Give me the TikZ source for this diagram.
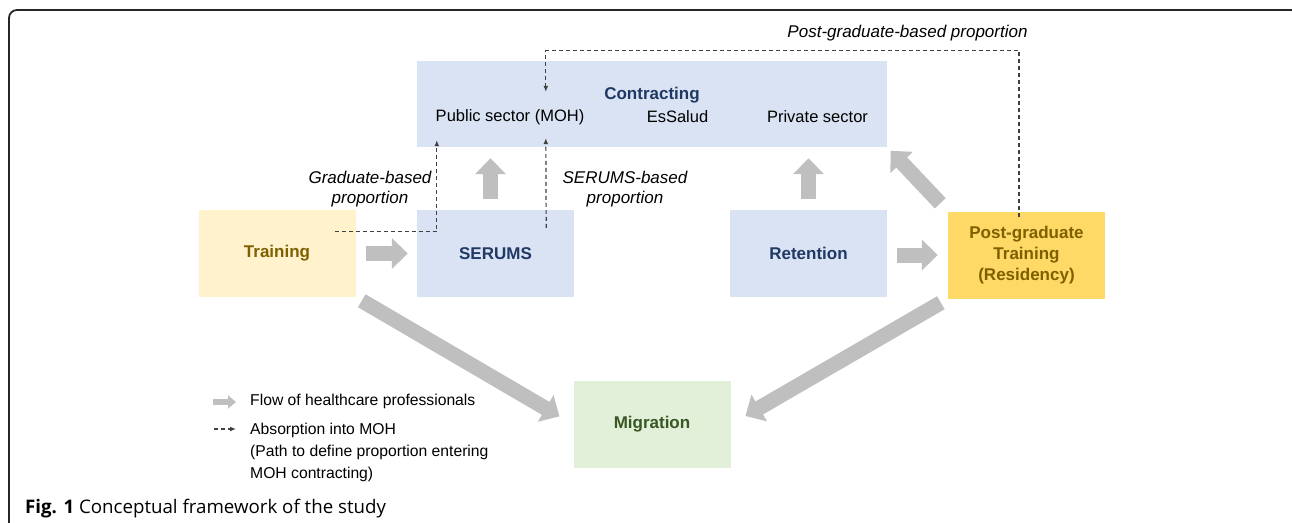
\documentclass[tikz,border=0pt]{standalone}
\usepackage{fontspec}
\setmainfont{Liberation Sans}
\newfontfamily\capfont{Open Sans}
\usepackage{tikz}
\usetikzlibrary{arrows.meta}

\definecolor{boxblue}{HTML}{DAE3F3}
\definecolor{boxcream}{HTML}{FFF2CC}
\definecolor{boxgold}{HTML}{FFD966}
\definecolor{boxgreen}{HTML}{E2EFD9}
\definecolor{txtblue}{HTML}{203864}
\definecolor{txtbrown}{HTML}{7F6000}
\definecolor{txtgreen}{HTML}{385723}
\definecolor{flowgray}{HTML}{BFBFBF}
\definecolor{dashgray}{HTML}{404040}

\begin{document}
\begin{tikzpicture}[x=1pt,y=-1pt,
  stage/.style={minimum width=157pt,minimum height=87pt,inner sep=0pt,align=center,
    font=\bfseries\fontsize{17}{21}\selectfont},
  sector/.style={font=\fontsize{16.5}{20}\selectfont,inner sep=0pt},
  share/.style={font=\itshape\fontsize{17}{20}\selectfont,align=center,inner sep=0pt},
  legtext/.style={font=\fontsize{15.7}{22}\selectfont,align=left,inner sep=0pt},
  flow/.style={draw=flowgray,line width=15pt,-{Triangle[length=16pt,width=30pt]}},
  absorb/.style={draw=dashgray,line width=1.2pt,dash pattern=on 4pt off 3pt,
    -{Latex[length=6pt,width=5pt]}}]
\useasboundingbox (0,0) rectangle (1292,522);
\clip (0,0) rectangle (1292,522);
\draw[line width=1.8pt,draw=black!85,rounded corners=8pt]
(9,540) -- (9,10) -- (1299,10) -- (1299,540);

% the boxes
\node[stage,fill=boxblue,minimum width=470pt,minimum height=86pt] (contr) at (652,104) {};
\node[font=\bfseries\fontsize{17}{20}\selectfont,text=txtblue,inner sep=0pt] (contrlab) at (652,95) {Contracting};
\node[sector] (moh) at (510,117) {Public sector (MOH)};
\node[sector] (essalud) at (677.5,117) {EsSalud};
\node[sector] (priv) at (817.5,117) {Private sector};
\node[stage,fill=boxcream,text=txtbrown] (train) at (277,253.5) {Training};
\node[stage,fill=boxblue,text=txtblue] (serums) at (495.5,253.5) {SERUMS};
\node[stage,fill=boxblue,text=txtblue] (retain) at (808.5,253.5) {Retention};
\node[stage,fill=boxgold,text=txtbrown] (pgt) at (1026.5,255) {Post-graduate\\Training\\(Residency)};
\node[stage,fill=boxgreen,text=txtgreen] (migr) at (652,424.5) {Migration};

\node[share] (gradlab) at (370,189) {Graduate-based\\proportion};
\node[share] (serlab) at (625,189) {SERUMS-based\\proportion};
\node[share] (pglab) at (907.5,33) {Post-graduate-based proportion};

% flow of professionals
\draw[flow,shorten <=10pt,shorten >=9pt] (train.east) -- (serums.west);
\draw[flow,shorten <=10pt,shorten >=10pt] (pgt.west -| retain.east) -- (pgt.west);
\draw[flow,shorten <=11pt,shorten >=11pt] ([xshift=-5pt]serums.north) -- ([xshift=-5pt]serums.north |- contr.south);
\draw[flow,shorten <=11pt,shorten >=11pt] (retain.north) -- (retain.north |- contr.south);
\draw[flow,shorten <=11pt,shorten >=5pt] (pgt.north west) -- (contr.south east);
\draw[flow,shorten <=7pt,shorten >=16pt] (train.south east) -- (migr.west);
\draw[flow,shorten <=8pt,shorten >=17pt] (pgt.south west) -- (migr.east);

% absorption into MOH
\draw[absorb] ([shift={(-21,-22)}]train.east) -| ([shift={(20,-7)}]contr.south west);
\draw[absorb] ([shift={(-28,18)}]serums.north east) -- ([shift={(129,-9)}]contr.south west);
\draw[absorb] ([shift={(-7.5,6)}]pgt.north) |- ([shift={(129,-10)}]contr.north west)
-- ([shift={(129,31)}]contr.north west);

% legend
\coordinate (legflowA) at (213,402);
\coordinate (legflowB) at (236,402);
\coordinate (legdashA) at (214,429);
\coordinate (legdashB) at (236,429);
\draw[draw=flowgray,line width=6pt,-{Triangle[length=8pt,width=13pt]}] (legflowA) -- (legflowB);
\draw[absorb] (legdashA) -- (legdashB);
\node[legtext,anchor=west] (legflow) at (250,401) {Flow of healthcare professionals};
\node[legtext,anchor=north west] (legabs) at (250,423) {Absorption into MOH\\(Path to define proportion entering\\MOH contracting)};

\node[font=\capfont\fontsize{18.7}{22}\selectfont,anchor=base west,inner sep=0pt] (caption) at (25,513)
{\textbf{Fig. 1} Conceptual framework of the study};
\end{tikzpicture}
\end{document}
